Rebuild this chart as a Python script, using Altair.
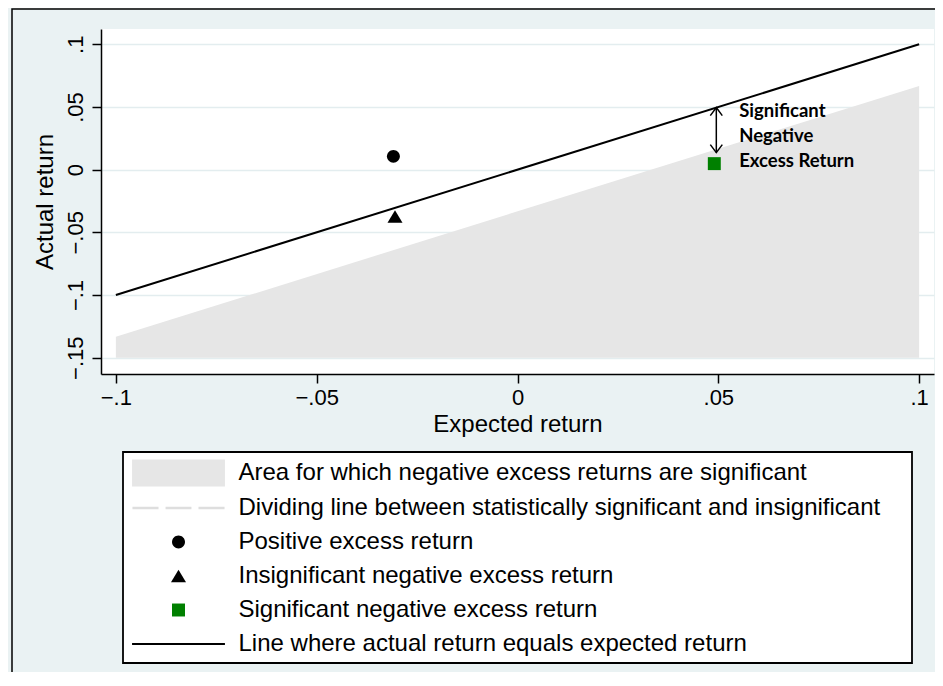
import altair as alt
import pandas as pd

# ---------------- data ----------------
x_ticks = [-0.1, -0.05, 0.0, 0.05, 0.1]
x_tick_labels = ["−.1", "−.05", "0", ".05", ".1"]
y_ticks = [-0.15, -0.1, -0.05, 0.0, 0.05, 0.1]
y_tick_labels = ["−.15", "−.1", "−.05", "0", ".05", ".1"]

area_x = [-0.1, 0.1]
area_upper = [-0.1333, 0.0667]
area_lower = [-0.15, -0.15]

equal_x = [-0.1, 0.1]
equal_y = [-0.1, 0.1]

point_series = [
    "Positive excess return",
    "Insignificant negative excess return",
    "Significant negative excess return",
]
point_x = [-0.0309, -0.0305, 0.049]
point_y = [0.0106, -0.0373, 0.0048]

arrow_x = [0.0495]
arrow_from = [0.0136]
arrow_to = [0.0495]

note_lines = ["Significant", "Negative", "Excess Return"]
note_x = [0.0552, 0.0552, 0.0552]
note_y = [0.0423, 0.0223, 0.0021]

legend_labels = [
    "Area for which negative excess returns are significant",
    "Dividing line between statistically significant and insignificant",
    "Positive excess return",
    "Insignificant negative excess return",
    "Significant negative excess return",
    "Line where actual return equals expected return",
]
legend_colors = ["#e6e6e6", "#dedede", "black", "black", "#008000", "black"]
legend_shapes = [
    "M-3.44,-1H3.44V1H-3.44Z",
    "M-3.41,-0.085H-1.48V0.085H-3.41Z M-0.96,-0.085H0.96V0.085H-0.96Z M1.48,-0.085H3.41V0.085H1.48Z",
    "M-0.48,0A0.48,0.48 0 1,0 0.48,0A0.48,0.48 0 1,0 -0.48,0Z",
    "M0,-0.46L0.556,0.46L-0.556,0.46Z",
    "M-0.48,-0.48H0.48V0.48H-0.48Z",
    "M-3.44,-0.08H3.44V0.08H-3.44Z",
]

# ---------------- helpers ----------------
def lab_expr(vals, labs):
    parts = [f"abs(datum.value - ({v})) < 1e-6 ? '{l}'" for v, l in zip(vals, labs)]
    return " : ".join(parts) + " : ''"

FONT = "Liberation Sans"
xs = alt.Scale(domain=[-0.1037, 0.1037], nice=False, zero=False)
ys = alt.Scale(domain=[-0.163, 0.1122], nice=False, zero=False)

xaxis = alt.Axis(values=x_ticks, labelExpr=lab_expr(x_ticks, x_tick_labels), grid=False,
                 domainColor="black", domainWidth=1.5, tickColor="black", tickWidth=1.5,
                 tickSize=9, labelFont=FONT, labelFontSize=22, labelColor="black",
                 labelPadding=4, labelFlush=False, labelOverlap=False, labelBound=False,
                 titleFont=FONT, titleFontSize=24, titleFontWeight="normal",
                 titleColor="black", titlePadding=4)
yaxis = alt.Axis(values=y_ticks, labelExpr=lab_expr(y_ticks, y_tick_labels), grid=True,
                 gridColor="#e3edef", gridWidth=1.5,
                 domainColor="black", domainWidth=1.5, tickColor="black", tickWidth=1.5,
                 tickSize=9, labelFont=FONT, labelFontSize=22, labelColor="black",
                 labelAngle=270, labelAlign="center", labelBaseline="alphabetic",
                 labelPadding=10, labelFlush=False, labelOverlap=False, labelBound=False,
                 titleFont=FONT, titleFontSize=24, titleFontWeight="normal",
                 titleColor="black", titlePadding=7)

X = alt.X("x:Q", scale=xs, axis=xaxis, title="Expected return")
Y = alt.Y("y:Q", scale=ys, axis=yaxis, title="Actual return")

one = pd.DataFrame({"k": [0]})

frame = alt.Chart(one).mark_rect(filled=False, color="black", strokeWidth=1.5).encode(
    x=alt.value(-89), x2=alt.value(1000), y=alt.value(-20), y2=alt.value(800))

legend_box = alt.Chart(one).mark_rect(fill="white", stroke="black", strokeWidth=1.8).encode(
    x=alt.value(22), x2=alt.value(811), y=alt.value(423), y2=alt.value(634))

area_df = pd.DataFrame({"x": area_x, "y": area_upper, "y2": area_lower})
area = alt.Chart(area_df).mark_area(color="#e6e6e6", opacity=1).encode(
    x=X, y=Y, y2="y2:Q")

line_df = pd.DataFrame({"x": equal_x, "y": equal_y})
eq_line = alt.Chart(line_df).mark_line(color="black", strokeWidth=2).encode(x=X, y=Y)

arrow_df = pd.DataFrame({"x": arrow_x, "y": arrow_from, "y2": arrow_to})
arrow_rule = alt.Chart(arrow_df).mark_rule(color="black", strokeWidth=1.5).encode(
    x=X, y=Y, y2="y2:Q")
head_up_df = pd.DataFrame({"x": arrow_x, "y": arrow_to})
head_up = alt.Chart(head_up_df).mark_point(shape="M-1,1.33L0,0L1,1.33", size=144, filled=False,
                                           color="black", strokeWidth=1.5, opacity=1).encode(x=X, y=Y)
head_dn_df = pd.DataFrame({"x": arrow_x, "y": arrow_from})
head_dn = alt.Chart(head_dn_df).mark_point(shape="M-1,-1.33L0,0L1,-1.33", size=144, filled=False,
                                           color="black", strokeWidth=1.5, opacity=1).encode(x=X, y=Y)

leg = alt.Legend(title=None, orient="none", legendX=22, legendY=423, direction="vertical",
                 labelFont=FONT, labelFontSize=24, labelColor="black", labelLimit=2000,
                 symbolSize=729, symbolStrokeWidth=0, symbolOffset=34.5, labelOffset=46.5,
                 rowPadding=8, padding=7.5, symbolOpacity=1)

pts_df = pd.DataFrame({"x": point_x, "y": point_y, "series": point_series})
points = alt.Chart(pts_df).mark_point(filled=True, size=729, opacity=1).encode(
    x=X, y=Y,
    color=alt.Color("series:N", scale=alt.Scale(domain=legend_labels, range=legend_colors), legend=leg),
    shape=alt.Shape("series:N", scale=alt.Scale(domain=legend_labels, range=legend_shapes), legend=leg),
)

note_df = pd.DataFrame({"x": note_x, "y": note_y, "label": note_lines})
notes = alt.Chart(note_df).mark_text(font="Lato", fontWeight="bold", fontSize=18.5, align="left",
                                     baseline="alphabetic", color="black").encode(
    x=X, y=Y, text="label:N")

chart = alt.layer(frame, legend_box, area, eq_line, arrow_rule, head_up, head_dn, points, notes).properties(
    width=833, height=345,
    padding={"left": 93, "top": 21, "right": 1, "bottom": 298},
    autosize=alt.AutoSizeParams(type="none"),
    background="#eaf2f3",
).configure_view(fill="white", stroke=None)

chart.save("out.html", embed_options={"renderer": "svg", "actions": False})
